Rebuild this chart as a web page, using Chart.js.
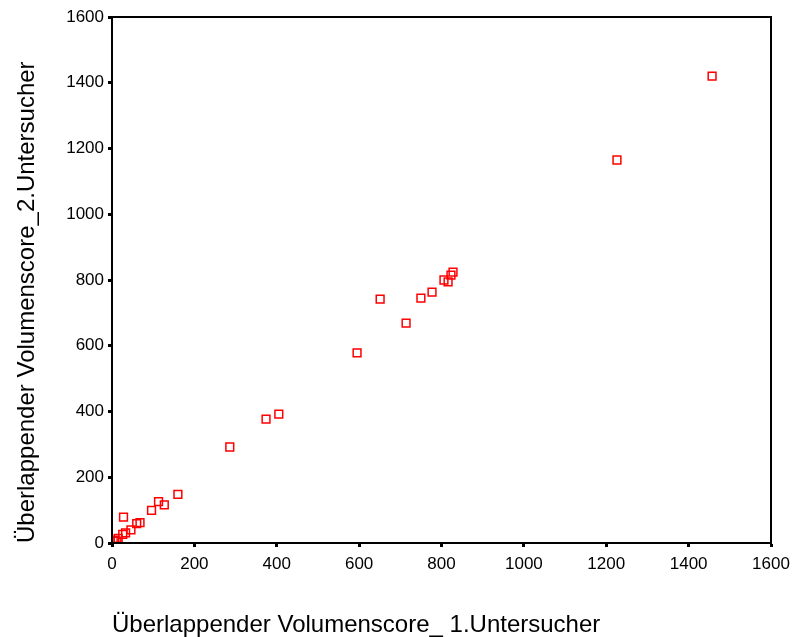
<!DOCTYPE html>
<html><head><meta charset="utf-8">
<script src="https://cdn.jsdelivr.net/npm/chart.js@4/dist/chart.umd.min.js"></script>
<style>html,body{margin:0;padding:0;background:#fff}#wrap{width:797px;height:637px}</style>
</head><body><div id="wrap"><canvas id="c" width="797" height="637"></canvas></div>
<script>
const xValues = [1457,1226,651,714,750,777,806,816,823,828,595,405,374,286,160,113,127,96,68,60,28,46,33,26,15,7,3,12];
const yValues = [1420,1165,742,669,745,763,800,794,815,824,578,392,377,292,148,126,116,99,62,59,79,40,31,26,14,9,6,6];
const xTitle = "Überlappender Volumenscore_ 1.Untersucher";
const yTitle = "Überlappender Volumenscore_2.Untersucher";

const points = xValues.map((x,i)=>({x:x,y:yValues[i]}));
const frame = {id:'frame',afterDraw(ch){const a=ch.chartArea,c=ch.ctx;c.save();c.strokeStyle='#000';c.lineWidth=2;c.strokeRect(a.left,a.top,a.right-a.left,a.bottom-a.top);c.restore();}};
const fam = '"Liberation Sans", Arial, sans-serif';
const tickFont = {family:fam, size:17};
const titleFont = {family:fam, size:24, lineHeight:1};
const plain = v => String(v);
new Chart(document.getElementById('c'),{
 type:'scatter',
 data:{datasets:[{data:points,pointStyle:'rect',pointRadius:5.5,pointHoverRadius:5.5,borderColor:'#ff0000',backgroundColor:'rgba(0,0,0,0)',borderWidth:1.5}]},
 options:{responsive:false,animation:false,
  layout:{padding:{top:17,right:26,bottom:0,left:0}},
  plugins:{legend:{display:false},tooltip:{enabled:false}},
  scales:{
   x:{type:'linear',min:0,max:1600,
      ticks:{stepSize:200,color:'#000',font:tickFont,padding:7,maxRotation:0,callback:plain},
      grid:{drawOnChartArea:false,drawTicks:true,tickLength:4,tickWidth:3,color:'#000'},
      border:{color:'#000',width:2},
      title:{display:true,text:xTitle,align:'start',color:'#000',font:titleFont,padding:{top:0,bottom:0}},
      afterFit(s){s.height=94;}},
   y:{type:'linear',min:0,max:1600,
      ticks:{stepSize:200,color:'#000',font:tickFont,padding:4,callback:plain},
      grid:{drawOnChartArea:false,drawTicks:true,tickLength:4,tickWidth:3,color:'#000'},
      border:{color:'#000',width:2},
      title:{display:true,text:yTitle,align:'start',color:'#000',font:titleFont,padding:{top:15,bottom:0}},
      afterFit(s){s.width=112;}}
  }},
 plugins:[frame]
});
</script></body></html>
